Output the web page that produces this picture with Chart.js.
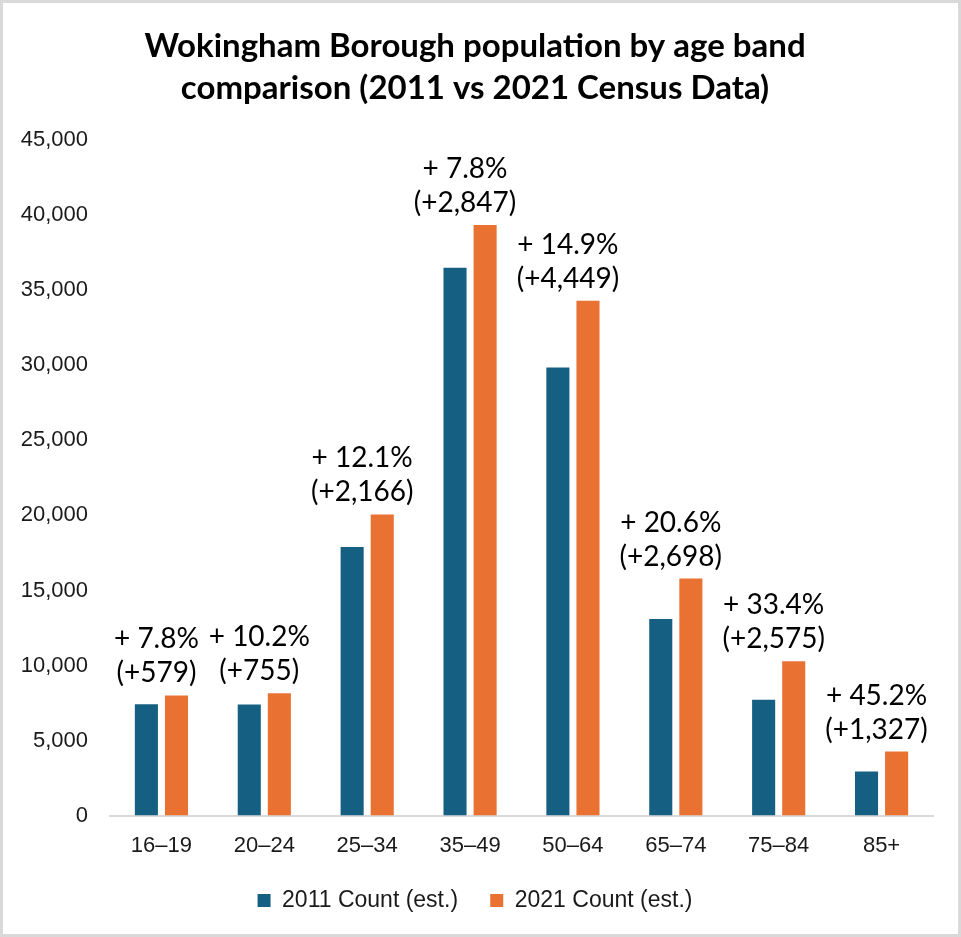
<!DOCTYPE html>
<html>
<head>
<meta charset="utf-8">
<script src="https://cdn.jsdelivr.net/npm/chart.js@4.4.1/dist/chart.umd.min.js"></script>
<style>
  html, body { margin: 0; padding: 0; background: #fff; }
  .frame {
    width: 961px;
    height: 937px;
    box-sizing: border-box;
    border: 3px solid #d9d9d9;
    position: relative;
  }
</style>
</head>
<body>
<div class="frame">
  <canvas id="popChart"></canvas>
</div>
<script>
// Census population estimates by age band
const ageBands = ["16–19", "20–24", "25–34", "35–49", "50–64", "65–74", "75–84", "85+"];
const count2011 = [7423, 7402, 17901, 36500, 29859, 13097, 7710, 2936];
const count2021 = [8002, 8157, 20067, 39347, 34308, 15795, 10285, 4263];
const yMax = 45000;
const yStep = 5000;

const BLUE = "#156082";
const ORANGE = "#E97132";

// Change labels ("+ x.x%" / "(+n)") above each age band, worked out from the counts
const changeLabels = {
  id: "changeLabels",
  afterDatasetsDraw(chart) {
    const ctx = chart.ctx;
    const metaA = chart.getDatasetMeta(0);
    const metaB = chart.getDatasetMeta(1);
    ctx.save();
    ctx.font = "28px Lato";
    ctx.fillStyle = "#000";
    ctx.textAlign = "center";
    ctx.textBaseline = "alphabetic";
    ageBands.forEach((band, i) => {
      const a = count2011[i];
      const b = count2021[i];
      const diff = b - a;
      const pct = (diff / a * 100).toFixed(1);
      const barA = metaA.data[i];
      const barB = metaB.data[i];
      const cx = (barA.x + barB.x) / 2 - 5;
      const top = Math.min(barA.y, barB.y);
      ctx.fillText("+ " + pct + "%", cx, top - 47);
      ctx.fillText("(+" + diff.toLocaleString("en-US") + ")", cx, top - 13);
    });
    ctx.restore();
  }
};

new Chart(document.getElementById("popChart").getContext("2d"), {
  type: "bar",
  data: {
    labels: ageBands,
    datasets: [
      {
        label: "2011 Count (est.)",
        data: count2011,
        backgroundColor: BLUE,
        categoryPercentage: 0.585,
        barPercentage: 0.767
      },
      {
        label: "2021 Count (est.)",
        data: count2021,
        backgroundColor: ORANGE,
        categoryPercentage: 0.585,
        barPercentage: 0.767
      }
    ]
  },
  options: {
    responsive: true,
    maintainAspectRatio: false,
    animation: false,
    layout: {
      padding: { top: 23, left: 14, right: 25, bottom: 12 }
    },
    plugins: {
      title: {
        display: true,
        text: ["Wokingham Borough population by age band", "comparison (2011 vs 2021 Census Data)"],
        color: "#000",
        font: { family: "Lato", size: 33, weight: "bold", lineHeight: 1.26 },
        padding: { top: 0, bottom: 31 }
      },
      legend: {
        position: "bottom",
        labels: {
          color: "#1a1a1a",
          font: { family: "Liberation Sans", size: 23 },
          boxWidth: 13,
          boxHeight: 13,
          padding: 13,
          // widen the gap after the first entry without adding vertical space
          generateLabels(chart) {
            const items = Chart.defaults.plugins.legend.labels.generateLabels(chart);
            if (items.length) items[0].text += "   ";
            return items;
          }
        }
      },
      tooltip: { enabled: false }
    },
    scales: {
      x: {
        grid: { display: false, drawTicks: false },
        border: { color: "#d9d9d9", width: 2 },
        ticks: {
          color: "#1a1a1a",
          font: { family: "Liberation Sans", size: 22 },
          padding: 17
        }
      },
      y: {
        min: 0,
        max: yMax,
        grid: { display: false, drawTicks: false },
        border: { display: false },
        ticks: {
          stepSize: yStep,
          color: "#1a1a1a",
          font: { family: "Liberation Sans", size: 22 },
          padding: 22,
          callback: function(value) { return value.toLocaleString("en-US"); }
        },
        afterFit(scale) { scale.width = 93; }
      }
    }
  },
  plugins: [changeLabels]
});
</script>
</body>
</html>
